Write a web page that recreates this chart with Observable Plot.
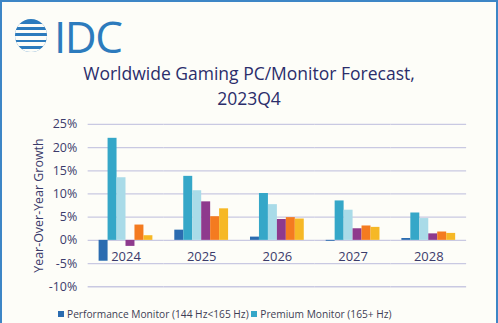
<!DOCTYPE html>
<html>
<head>
<meta charset="utf-8">
<script src="https://cdn.jsdelivr.net/npm/d3@7"></script>
<script src="https://cdn.jsdelivr.net/npm/@observablehq/plot@0.6"></script>
<style>
  html, body { margin: 0; padding: 0; background: #fdfdf8; }
  #frame { position: relative; width: 494px; height: 323px; border: 2px solid #3d86c6; border-bottom: none; background: #fdfdf8; overflow: hidden; font-family: "Open Sans", sans-serif; }
  #logo { position: absolute; left: 13px; top: 14px; height: 40px; }
  #globe { position: absolute; left: 0; top: 3px; width: 32px; height: 33px; border-radius: 50%; overflow: hidden; }
  #globe div { position: absolute; left: 0; width: 32px; height: 3.5px; background: #fdfdf8; }
  #idc { position: absolute; left: 39px; top: -10px; font-size: 44px; color: #2c7bbd; font-family: "Open Sans", sans-serif; font-weight: 400; letter-spacing: -1.5px; }
  #title { position: absolute; left: 0; width: 494px; top: 59px; text-align: center; color: #2b2d6b; font-size: 17.5px; line-height: 25px; }
  #chart { position: absolute; left: -2px; top: 98px; }
  #legend { position: absolute; left: 56px; top: 305px; font-size: 10.2px; color: #3d3d55; white-space: nowrap; }
  #legend span.sw { display: inline-block; width: 6px; height: 6px; margin-right: 3px; vertical-align: 1px; }
</style>
</head>
<body>
<div id="frame">
  <div id="logo">
    <div id="globe"></div>
    <div id="idc">IDC</div>
  </div>
  <div id="title">Worldwide Gaming PC/Monitor Forecast,<br>2023Q4</div>
  <div id="chart"></div>
  <div id="legend"></div>
</div>
<script>
// Data
const years = ["2024", "2025", "2026", "2027", "2028"];
const seriesNames = [
  "Performance Monitor (144 Hz<165 Hz)",
  "Premium Monitor (165+ Hz)",
  "Series 3",
  "Series 4",
  "Series 5",
  "Series 6"
];
const legendShown = ["Performance Monitor (144 Hz<165 Hz)", "Premium Monitor (165+ Hz)"];
const colors = ["#2b6cb0", "#35a7c8", "#a9dbe8", "#8e3a8d", "#f47b20", "#f6b826"];
const performance = [-4.5, 2.2, 0.7, -0.2, 0.4];
const premium     = [22.0, 13.8, 10.1, 8.5, 5.9];
const series3     = [13.5, 10.7, 7.7, 6.5, 4.7];
const series4     = [-1.3, 8.3, 4.5, 2.5, 1.4];
const series5     = [3.3, 5.1, 4.9, 3.1, 1.8];
const series6     = [1.0, 6.8, 4.6, 2.8, 1.5];
const yTicks = [-10, -5, 0, 5, 10, 15, 20, 25];

const allSeries = [performance, premium, series3, series4, series5, series6];
const rows = [];
years.forEach((yr, i) => {
  allSeries.forEach((arr, j) => rows.push({year: yr, series: seriesNames[j], value: arr[i]}));
});

// Globe stripes (decoration)
const globe = document.getElementById("globe");
globe.style.background = "#2c7bbd";
for (let k = 0; k < 5; k++) {
  const d = document.createElement("div");
  d.style.top = (4.5 + k * 6.3) + "px";
  globe.appendChild(d);
}

const chart = Plot.plot({
  width: 498,
  height: 200,
  marginLeft: 86,
  marginRight: 28,
  marginTop: 24,
  marginBottom: 13,
  style: {background: "transparent", fontFamily: "Open Sans, sans-serif"},
  fx: {domain: years, padding: 0, axis: null},
  x: {domain: seriesNames, paddingInner: 0, paddingOuter: 0.85, axis: null},
  y: {domain: [-10, 25]},
  color: {domain: seriesNames, range: colors},
  marks: [
    Plot.ruleY(yTicks, {stroke: "#c9c9e2", strokeWidth: 1.3}),
    Plot.barY(rows, {fx: "year", x: "series", y: "value", fill: "series", inset: 0}),
    Plot.text(years, {fx: d => d, y: 0, text: d => d, dy: 17, fontSize: 13, fill: "#3b3b6b"}),
    Plot.axisY(yTicks, {
      tickSize: 0, tickPadding: 11, tickFormat: d => d + "%", fontSize: 12.5,
      color: "#3b3b6b",
      label: "Year-Over-Year Growth", labelAnchor: "center", labelArrow: "none", labelOffset: 54
    })
  ]
});
document.getElementById("chart").appendChild(chart);
chart.querySelectorAll("text").forEach(t => { t.setAttribute("fill", "#3b3b6b"); });
const lab = chart.querySelector('g[aria-label="y-axis label"] text');
if (lab) lab.style.fontSize = "12.5px";

// Legend (only the first two entries are visible in the reference)
const lg = document.getElementById("legend");
legendShown.forEach((name, i) => {
  const sw = document.createElement("span");
  sw.className = "sw";
  sw.style.background = colors[seriesNames.indexOf(name)];
  lg.appendChild(sw);
  lg.appendChild(document.createTextNode(name + " "));
});
</script>
</body>
</html>
